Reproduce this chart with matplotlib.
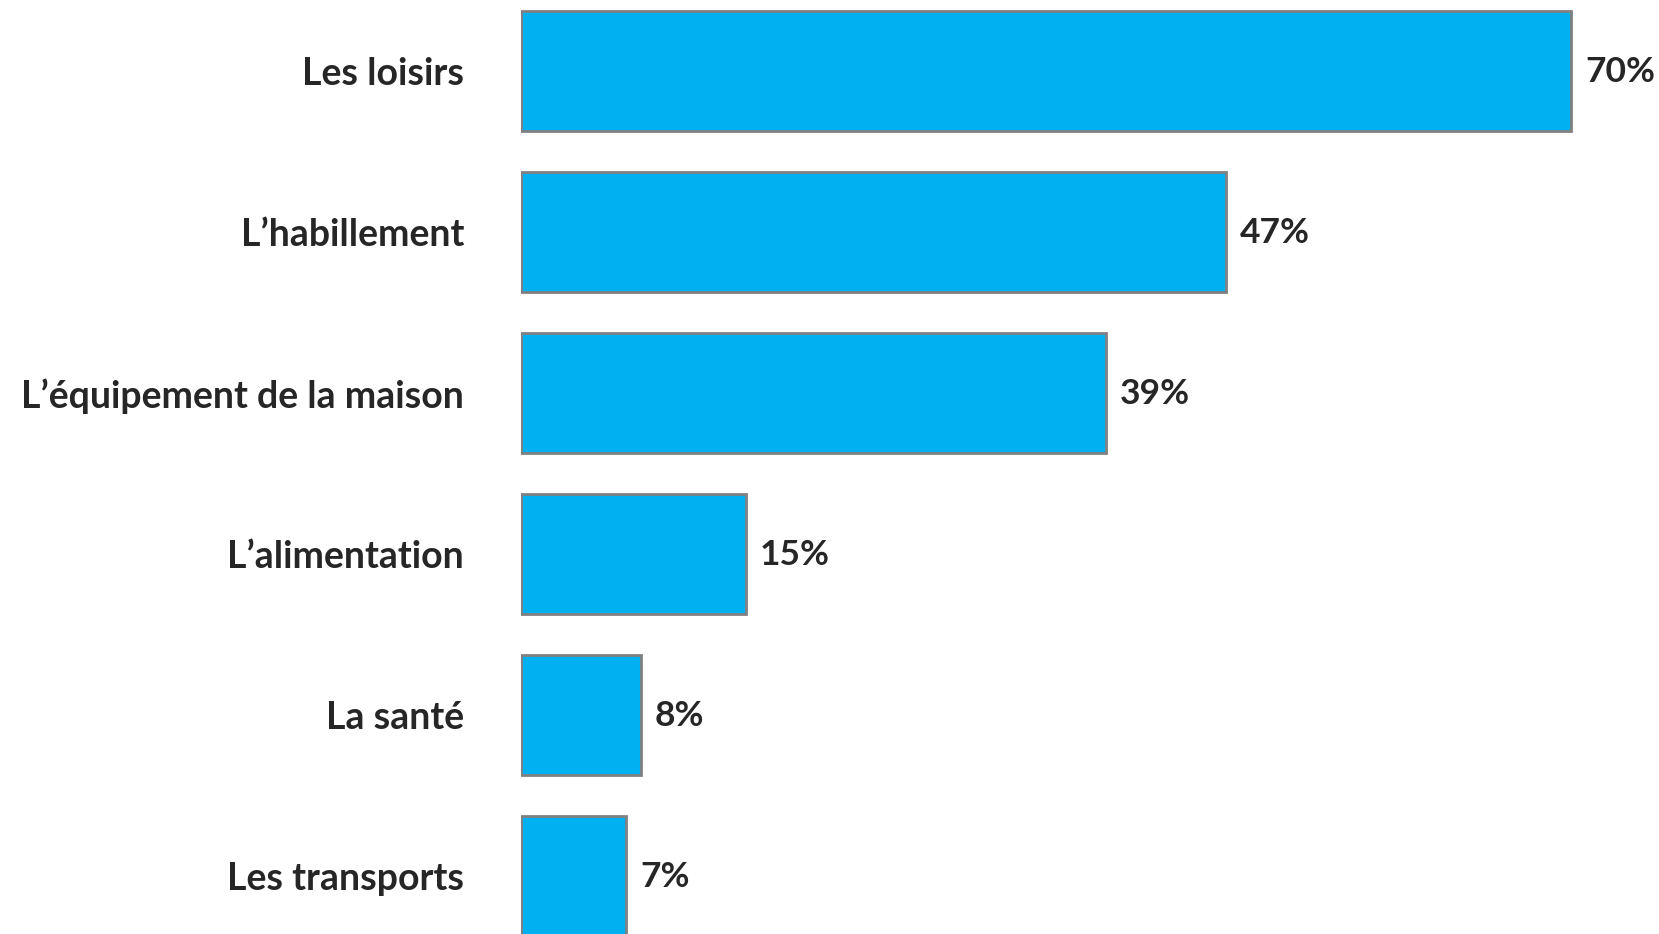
import matplotlib.pyplot as plt

categories = ["Les loisirs", "L\u2019habillement", "L\u2019\u00e9quipement de la maison",
              "L\u2019alimentation", "La sant\u00e9", "Les transports"]
values = [70, 47, 39, 15, 8, 7]

bar_color = "#00B0F0"
edge_color = "#808080"
text_color = "#262626"

plt.rcParams['font.family'] = ['Lato', 'DejaVu Sans']

fig = plt.figure(figsize=(16.59, 9.34), dpi=100)
# axes starts where the bars start; labels sit in the left margin
ax = fig.add_axes([521 / 1659, 0, 1125 / 1659, 1])

pos = list(range(len(categories)))
ax.barh(pos, values, height=0.745, color=bar_color, edgecolor=edge_color, linewidth=2)

for y, v in zip(pos, values):
    ax.annotate(f"{v}%", xy=(v, y), xytext=(10, -1), textcoords="offset points",
                va="center", ha="left", fontsize=25.5, fontweight="bold", color=text_color)

ax.set_xlim(0, 75)
ax.set_ylim(5.36, -0.44)
ax.set_yticks(pos)
ax.set_yticklabels(categories, fontsize=27, fontweight="bold", color=text_color)
ax.tick_params(axis="y", length=0, pad=41)
ax.set_xticks([])
for s in ax.spines.values():
    s.set_visible(False)

fig.savefig("out.png", dpi=100, facecolor="white")
